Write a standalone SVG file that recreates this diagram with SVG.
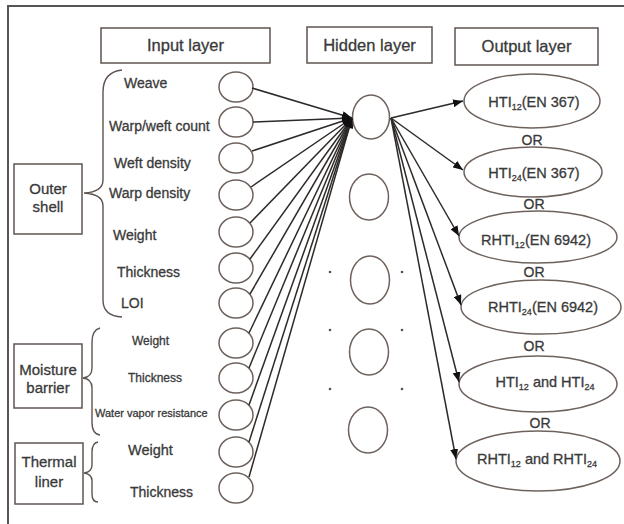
<svg xmlns="http://www.w3.org/2000/svg" width="624" height="524" viewBox="0 0 624 524">
<style>
text{font-family:"Liberation Sans",Arial,sans-serif;fill:#3a3a3a;stroke:#3a3a3a;stroke-width:0.3}
.hdr{font-size:16.5px;text-anchor:middle}
.lbl{font-size:14px}
.grp{font-size:15px;text-anchor:middle}
.out{font-size:14.5px;text-anchor:middle}
.or{font-size:14px;text-anchor:middle}
.box{fill:none;stroke:#5e5450;stroke-width:1.5}
.node{fill:#fff;stroke:#6e625d;stroke-width:1.5}
.brace{fill:none;stroke:#5e5450;stroke-width:1.4}
.conn{stroke:#2e2a28;stroke-width:1.5;fill:none;marker-end:url(#arr)}
.dot{fill:#555}
</style>
<defs>
<marker id="arr" markerUnits="userSpaceOnUse" markerWidth="10" markerHeight="8" refX="10" refY="4" orient="auto">
<path d="M0,0 L10,4 L0,8 z" fill="#111"/>
</marker>
</defs>
<rect width="624" height="524" fill="#fff"/>
<g id="frame" fill="none" stroke="#555" stroke-width="2">
<path d="M8,524 V6 H624"/>
</g>

<g id="header-input"><rect class="box" x="101" y="28" width="169" height="35"/><text class="hdr" x="185.5" y="51">Input layer</text></g>
<g id="header-hidden"><rect class="box" x="307" y="27" width="125" height="36"/><text class="hdr" x="369.5" y="51">Hidden layer</text></g>
<g id="header-output"><rect class="box" x="455" y="28" width="143" height="37"/><text class="hdr" x="526.5" y="52">Output layer</text></g>

<g id="group-outer-shell">
<rect class="box" x="14" y="164" width="68" height="70"/>
<text class="grp" x="48" y="194">Outer</text><text class="grp" x="48" y="212">shell</text>
<path class="brace" d="M122,70 Q103,72 103,92 V180 Q103,192 84,193 Q103,194 103,206 V300 Q103,316 122,317"/>
</g>
<g id="group-moisture-barrier">
<rect class="box" x="14" y="344" width="68" height="64"/>
<text class="grp" x="48" y="375">Moisture</text><text class="grp" x="48" y="393">barrier</text>
<path class="brace" d="M100,328 Q92,330 92,342 V368 Q92,377 83,378 Q92,379 92,388 V422 Q92,434 100,435"/>
</g>
<g id="group-thermal-liner">
<rect class="box" x="15" y="443" width="68" height="61"/>
<text class="grp" x="49" y="467">Thermal</text><text class="grp" x="49" y="487">liner</text>
<path class="brace" d="M98,442 Q92,443 92,452 V465 Q92,472 84,473 Q92,474 92,481 V494 Q92,502 98,502"/>
</g>

<g id="in-weave"><text class="lbl" x="124" y="88">Weave</text><ellipse class="node" cx="236" cy="87" rx="17" ry="15"/></g>
<g id="in-warp-weft-count"><text class="lbl" x="109" y="131">Warp/weft count</text><ellipse class="node" cx="236" cy="122" rx="17" ry="15"/></g>
<g id="in-weft-density"><text class="lbl" x="114" y="168">Weft density</text><ellipse class="node" cx="236" cy="158" rx="17" ry="15"/></g>
<g id="in-warp-density"><text class="lbl" x="109" y="198">Warp density</text><ellipse class="node" cx="236" cy="195" rx="17" ry="15"/></g>
<g id="in-os-weight"><text class="lbl" x="113" y="240">Weight</text><ellipse class="node" cx="236" cy="232" rx="17" ry="15"/></g>
<g id="in-os-thickness"><text class="lbl" x="117" y="277">Thickness</text><ellipse class="node" cx="236" cy="268" rx="17" ry="15"/></g>
<g id="in-loi"><text class="lbl" x="121" y="308">LOI</text><ellipse class="node" cx="236" cy="303" rx="17" ry="15"/></g>
<g id="in-mb-weight"><text class="lbl" x="132" y="345" style="font-size:12px">Weight</text><ellipse class="node" cx="236" cy="343" rx="17" ry="15"/></g>
<g id="in-mb-thickness"><text class="lbl" x="128" y="382" style="font-size:12px">Thickness</text><ellipse class="node" cx="236" cy="378" rx="17" ry="15"/></g>
<g id="in-water-vapor"><text class="lbl" x="95" y="417" style="font-size:11px">Water vapor resistance</text><ellipse class="node" cx="236" cy="415" rx="17" ry="15"/></g>
<g id="in-tl-weight"><text class="lbl" x="128" y="455" style="font-size:14.5px">Weight</text><ellipse class="node" cx="236" cy="452" rx="17" ry="15"/></g>
<g id="in-tl-thickness"><text class="lbl" x="130" y="497">Thickness</text><ellipse class="node" cx="236" cy="488" rx="17" ry="15"/></g>

<g id="hidden-1"><ellipse class="node" cx="371" cy="117" rx="18.5" ry="22"/></g>
<g id="hidden-2"><ellipse class="node" cx="369" cy="197" rx="19.5" ry="23"/></g>
<g id="hidden-3"><ellipse class="node" cx="370" cy="280" rx="19.5" ry="24"/></g>
<g id="hidden-4"><ellipse class="node" cx="369" cy="352" rx="19.5" ry="23"/></g>
<g id="hidden-5"><ellipse class="node" cx="368" cy="430" rx="19.5" ry="23"/></g>
<g id="dots">
<circle class="dot" cx="330" cy="272" r="1.3"/><circle class="dot" cx="402" cy="272" r="1.3"/>
<circle class="dot" cx="330" cy="330" r="1.3"/><circle class="dot" cx="402" cy="330" r="1.3"/>
<circle class="dot" cx="330" cy="389" r="1.3"/><circle class="dot" cx="402" cy="389" r="1.3"/>
</g>

<g id="out-1"><ellipse class="node" cx="532" cy="101" rx="68" ry="27"/><text class="out" x="534" y="107">HTI<tspan font-size="9" dy="3">12</tspan><tspan dy="-3">(EN 367)</tspan></text></g>
<g id="out-2"><ellipse class="node" cx="533" cy="172" rx="69" ry="25"/><text class="out" x="534" y="178">HTI<tspan font-size="9" dy="3">24</tspan><tspan dy="-3">(EN 367)</tspan></text></g>
<g id="out-3"><ellipse class="node" cx="538" cy="237" rx="79" ry="26"/><text class="out" x="536" y="245">RHTI<tspan font-size="9" dy="3">12</tspan><tspan dy="-3">(EN 6942)</tspan></text></g>
<g id="out-4"><ellipse class="node" cx="541" cy="307" rx="80" ry="27"/><text class="out" x="543" y="312">RHTI<tspan font-size="9" dy="3">24</tspan><tspan dy="-3">(EN 6942)</tspan></text></g>
<g id="out-5"><ellipse class="node" cx="538" cy="384" rx="79" ry="28"/><text class="out" x="545" y="387">HTI<tspan font-size="9" dy="3">12</tspan><tspan dy="-3"> and HTI</tspan><tspan font-size="9" dy="3">24</tspan></text></g>
<g id="out-6"><ellipse class="node" cx="538" cy="461" rx="82" ry="30"/><text class="out" x="537" y="464">RHTI<tspan font-size="9" dy="3">12</tspan><tspan dy="-3"> and RHTI</tspan><tspan font-size="9" dy="3">24</tspan></text></g>
<g id="or-labels">
<text class="or" x="532" y="145">OR</text>
<text class="or" x="534" y="209">OR</text>
<text class="or" x="534" y="277">OR</text>
<text class="or" x="534" y="351">OR</text>
<text class="or" x="540" y="428">OR</text>
</g>

<g id="connectors">
<line class="conn" x1="252" y1="88" x2="352" y2="118"/>
<line class="conn" x1="253" y1="122" x2="352" y2="118"/>
<line class="conn" x1="252" y1="151" x2="352" y2="118"/>
<line class="conn" x1="251" y1="187" x2="352" y2="118"/>
<line class="conn" x1="250" y1="223" x2="352" y2="118"/>
<line class="conn" x1="250" y1="259" x2="352" y2="118"/>
<line class="conn" x1="250" y1="294" x2="352" y2="118"/>
<line class="conn" x1="249" y1="333" x2="352" y2="118"/>
<line class="conn" x1="249" y1="368" x2="352" y2="118"/>
<line class="conn" x1="249" y1="405" x2="352" y2="118"/>
<line class="conn" x1="249" y1="442" x2="352" y2="118"/>
<line class="conn" x1="249" y1="477" x2="352" y2="118"/>
<line class="conn" x1="391" y1="118" x2="463" y2="101"/>
<line class="conn" x1="391" y1="118" x2="463" y2="170"/>
<line class="conn" x1="391" y1="118" x2="459" y2="236"/>
<line class="conn" x1="391" y1="118" x2="461" y2="305"/>
<line class="conn" x1="391" y1="118" x2="459" y2="382"/>
<line class="conn" x1="391" y1="118" x2="456" y2="459"/>
</g>
</svg>
